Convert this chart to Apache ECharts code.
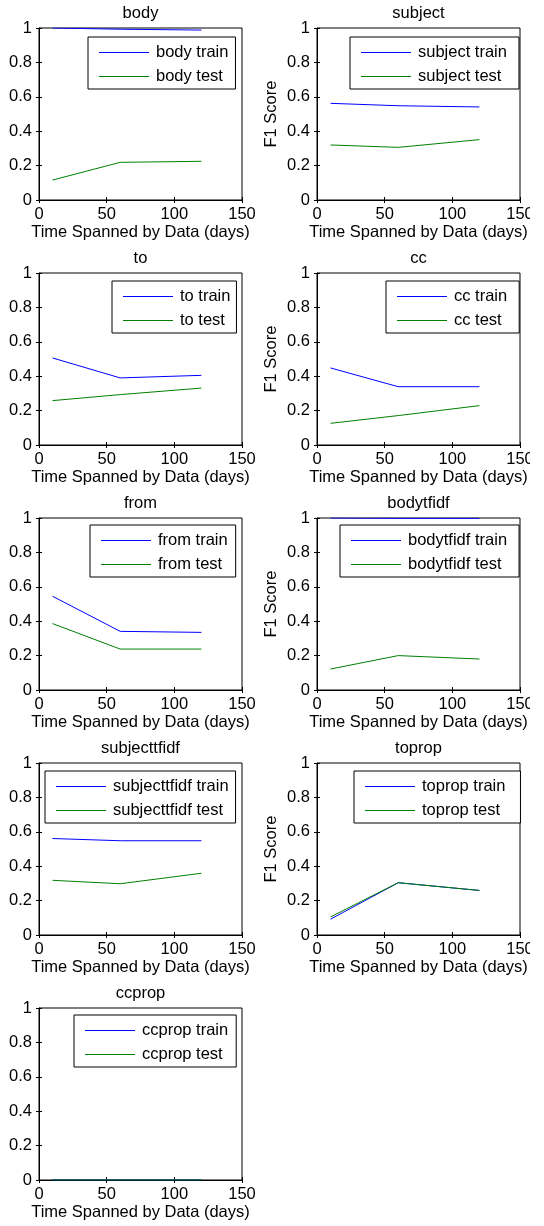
<!DOCTYPE html>
<html>
<head>
<meta charset="utf-8">
<script src="https://cdn.jsdelivr.net/npm/echarts@6/dist/echarts.min.js"></script>
<style>
  html, body { margin: 0; padding: 0; background: #fff; }
  #chart { width: 544px; height: 1226px; }
</style>
</head>
<body>
<div id="chart"></div>
<script>
// ---- data ----
const days = [10, 60, 120];
const panelNames = ['body', 'subject', 'to', 'cc', 'from', 'bodytfidf', 'subjecttfidf', 'toprop', 'ccprop'];

const bodyTrain = [1.0, 0.993, 0.988];
const bodyTest = [0.116, 0.219, 0.225];
const subjectTrain = [0.562, 0.548, 0.541];
const subjectTest = [0.320, 0.306, 0.351];
const toTrain = [0.506, 0.390, 0.405];
const toTest = [0.258, 0.293, 0.331];
const ccTrain = [0.448, 0.339, 0.339];
const ccTest = [0.126, 0.171, 0.229];
const fromTrain = [0.545, 0.341, 0.335];
const fromTest = [0.386, 0.238, 0.238];
const bodytfidfTrain = [1.0, 0.998, 0.998];
const bodytfidfTest = [0.122, 0.200, 0.180];
const subjecttfidfTrain = [0.561, 0.548, 0.548];
const subjecttfidfTest = [0.318, 0.298, 0.359];
const topropTrain = [0.092, 0.304, 0.259];
const topropTest = [0.105, 0.304, 0.259];
const ccpropTrain = [0, 0, 0];
const ccpropTest = [0, 0, 0];

const trainSeries = [bodyTrain, subjectTrain, toTrain, ccTrain, fromTrain, bodytfidfTrain, subjecttfidfTrain, topropTrain, ccpropTrain];
const testSeries = [bodyTest, subjectTest, toTest, ccTest, fromTest, bodytfidfTest, subjecttfidfTest, topropTest, ccpropTest];

const xAxisName = 'Time Spanned by Data (days)';
const yAxisName = 'F1 Score';
const trainColor = '#0000ff';
const testColor = '#008000';

// ---- layout ----
const FONT = '"Liberation Sans", Arial, Helvetica, sans-serif';
const FS = 16.5;
const colLefts = [39, 317];
const rowTops = [28, 273, 518, 763, 1008];
const plotW = 203, plotH = 172;
const legendLefts = [88, 350, 112, 386, 90, 340, 45, 354, 74];
const legendTops = [37, 37, 281, 281, 525, 525, 771, 771, 1015];
const legendPadRight = [7, 12, 6, 12, 8, 12, 7, 15, 8];

const grids = [], xAxes = [], yAxes = [], series = [], legends = [], titles = [];

panelNames.forEach((name, i) => {
  const col = i % 2, row = Math.floor(i / 2);
  const left = colLefts[col], top = rowTops[row];
  grids.push({
    left: left, top: top, width: plotW, height: plotH,
    show: true, borderColor: '#000', borderWidth: 1, backgroundColor: '#fff'
  });
  const gi = i;
  xAxes.push({
    type: 'value', gridIndex: gi, min: 0, max: 150, interval: 50, position: 'bottom',
    axisLine: { show: true, lineStyle: { color: '#000', width: 1 } },
    axisTick: { show: true, inside: true, length: 3, lineStyle: { color: '#000' } },
    axisLabel: { show: true, color: '#000', fontSize: FS, fontFamily: FONT, margin: 6 },
    splitLine: { show: false },
    name: xAxisName, nameLocation: 'middle', nameGap: 24,
    nameTextStyle: { color: '#000', fontSize: FS, fontFamily: FONT }
  });
  xAxes.push({
    type: 'value', gridIndex: gi, min: 0, max: 150, interval: 50, position: 'top',
    axisLine: { show: false },
    axisTick: { show: true, inside: true, length: 3, lineStyle: { color: '#000' } },
    axisLabel: { show: false }, splitLine: { show: false }
  });
  const yMain = {
    type: 'value', gridIndex: gi, min: 0, max: 1, interval: 0.2, position: 'left',
    axisLine: { show: true, lineStyle: { color: '#000', width: 1 } },
    axisTick: { show: true, inside: true, length: 3, lineStyle: { color: '#000' } },
    axisLabel: { show: true, color: '#000', fontSize: FS, fontFamily: FONT, margin: 7 },
    splitLine: { show: false }
  };
  if (col === 1) {
    yMain.name = yAxisName;
    yMain.nameLocation = 'middle';
    yMain.nameGap = 37;
    yMain.nameTextStyle = { color: '#000', fontSize: FS, fontFamily: FONT };
  }
  yAxes.push(yMain);
  yAxes.push({
    type: 'value', gridIndex: gi, min: 0, max: 1, interval: 0.2, position: 'right',
    axisLine: { show: false },
    axisTick: { show: true, inside: true, length: 3, lineStyle: { color: '#000' } },
    axisLabel: { show: false }, splitLine: { show: false }
  });

  const trainName = name + ' train', testName = name + ' test';
  series.push({
    type: 'line', name: trainName, xAxisIndex: 2 * i, yAxisIndex: 2 * i,
    data: days.map((d, k) => [d, trainSeries[i][k]]),
    symbol: 'none', showSymbol: false, color: trainColor,
    lineStyle: { color: trainColor, width: 1 }, animation: false, z: 3
  });
  series.push({
    type: 'line', name: testName, xAxisIndex: 2 * i, yAxisIndex: 2 * i,
    data: days.map((d, k) => [d, testSeries[i][k]]),
    symbol: 'none', showSymbol: false, color: testColor,
    lineStyle: { color: testColor, width: 1 }, animation: false, z: 4
  });

  legends.push({
    data: [
      { name: trainName, itemStyle: { color: trainColor, borderWidth: 0 } },
      { name: testName, itemStyle: { color: testColor, borderWidth: 0 } }
    ],
    orient: 'vertical',
    left: legendLefts[i], top: legendTops[i],
    padding: [7, legendPadRight[i], 4, 11],
    itemGap: 7, itemWidth: 50, itemHeight: 1,
    icon: 'rect',
    itemStyle: { borderWidth: 0 },
    backgroundColor: '#fff', borderColor: '#000', borderWidth: 1, borderRadius: 0,
    textStyle: { color: '#000', fontSize: FS, lineHeight: 16, fontFamily: FONT, padding: [0, 0, 0, 2] },
    selectedMode: false, z: 10
  });

  titles.push({
    text: name,
    left: left + plotW / 2, top: top - 23, textAlign: 'center',
    padding: 0,
    textStyle: { color: '#000', fontSize: FS, fontWeight: 'normal', fontFamily: FONT }
  });
});

const chart = echarts.init(document.getElementById('chart'), null, { renderer: 'canvas' });
chart.setOption({
  backgroundColor: '#fff',
  animation: false,
  title: titles,
  grid: grids,
  xAxis: xAxes,
  yAxis: yAxes,
  legend: legends,
  series: series,
  graphic: [{
    type: 'rect', left: 530, top: 0, z: 100,
    shape: { width: 14, height: 1226 },
    style: { fill: '#fff' }
  }]
});
</script>
</body>
</html>
